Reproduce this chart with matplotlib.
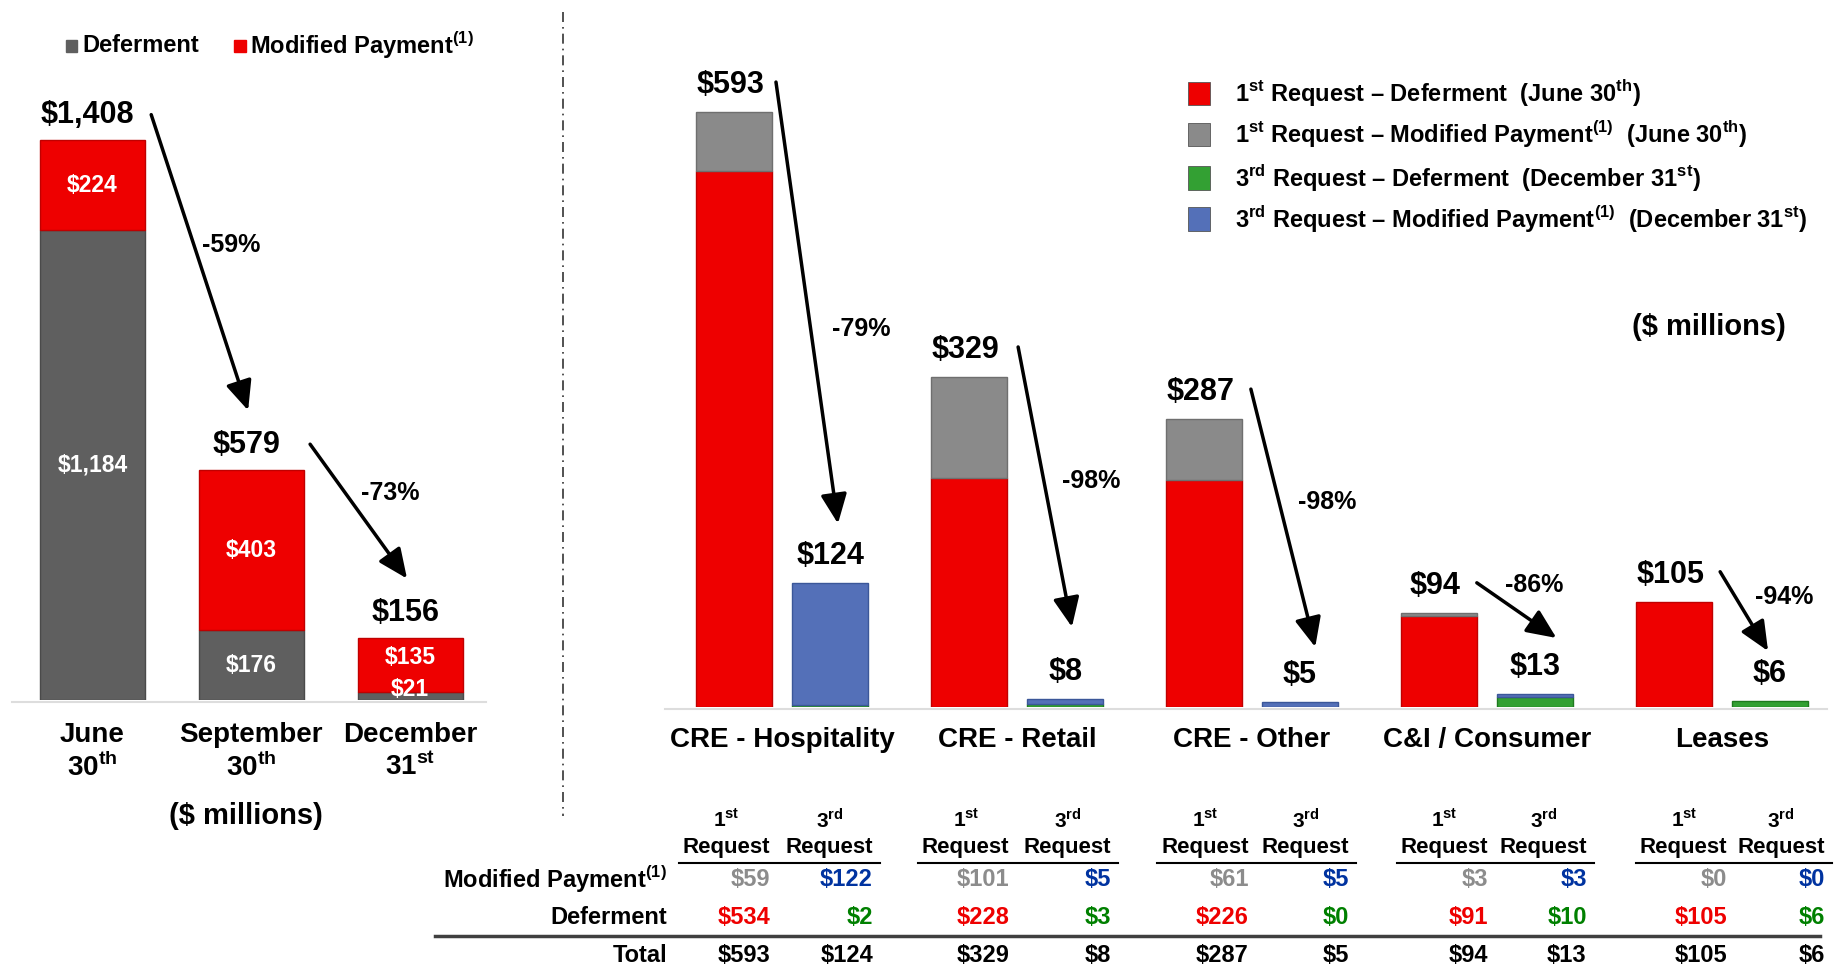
import matplotlib
matplotlib.use("Agg")
import matplotlib.pyplot as plt
import matplotlib.transforms as mtrans
from matplotlib.patches import Rectangle
from matplotlib.lines import Line2D
import numpy as np

plt.rcParams['font.family'] = ['Liberation Sans', 'DejaVu Sans']
plt.rcParams['font.weight'] = 'bold'
plt.rcParams['mathtext.fontset'] = 'custom'
plt.rcParams['mathtext.bf'] = 'Liberation Sans:bold'
plt.rcParams['mathtext.rm'] = 'Liberation Sans:bold'

# ---- data: left chart (totals by date)
dates = ['June', 'September', 'December']
date_days = ['30', '30', '31']
date_sfx = ['th', 'th', 'st']
left_deferment = [1184, 176, 21]
left_modified = [224, 403, 135]
left_pct = ['-59%', '-73%']

# ---- data: right chart (by segment)
segments = ['CRE - Hospitality', 'CRE - Retail', 'CRE - Other', 'C&I / Consumer', 'Leases']
first_mod = [59, 101, 61, 3, 0]
first_def = [534, 228, 226, 91, 105]
third_mod = [122, 5, 5, 3, 0]
third_def = [2, 3, 0, 10, 6]
right_pct = ['-79%', '-98%', '-98%', '-86%', '-94%']

RED = '#EE0000'
DGREY = '#5F5F5F'
GREY = '#8A8A8A'
GREEN = '#33A033'
BLUE = '#5470B8'
T_GREY = '#8C8C8C'
T_BLUE = '#0033A0'
T_GREEN = '#008000'

W, H = 1568, 825   # layout reference units


def fx(p):
    return p / W


def fy(p):
    return 1 - p / H


def sup(s):
    return r'$^{\mathbf{' + s + '}}$'


def money(v):
    return '${:,}'.format(v)


fig = plt.figure(figsize=(18.35, 9.66), dpi=100)

# ================= left chart =================
axl = fig.add_axes([fx(10), fy(598), fx(415) - fx(10), fy(10) - fy(598)])
xl = np.arange(len(dates))
ldef = np.array(left_deferment)
lmod = np.array(left_modified)
ltot = ldef + lmod
axl.bar(xl, ldef, width=0.663, color=DGREY, edgecolor='#4a4a4a', linewidth=1)
axl.bar(xl, lmod, bottom=ldef, width=0.663, color=RED, edgecolor='#c00000', linewidth=1)
axl.set_xlim(-0.508, 2.475)
axl.set_ylim(0, 588 / 0.3395)
axl.axis('off')
axl.plot([-0.508, 2.475], [-4, -4], color='#dddddd', lw=1.5, clip_on=False)

nudge = [(0, 0), (0, 0), (16, 18)]
for i in range(len(dates)):
    axl.text(xl[i], ldef[i] / 2 + nudge[i][0], money(ldef[i]), color='white',
             fontsize=16.5, ha='center', va='center')
    axl.text(xl[i], ldef[i] + lmod[i] / 2 + nudge[i][1], money(lmod[i]), color='white',
             fontsize=16.5, ha='center', va='center')
    axl.text(xl[i] - 0.03, ltot[i] + 64, money(ltot[i]), fontsize=22,
             ha='center', va='center')
    fig.text(fx(79 + 135.75 * i), fy(628), dates[i], fontsize=20, ha='center', va='center')
    fig.text(fx(79 + 135.75 * i), fy(655), date_days[i] + sup(date_sfx[i]), fontsize=20,
             ha='center', va='center')

for i in range(len(dates) - 1):
    start = (xl[i] + 0.37, ltot[i] + 65)
    end = (xl[i + 1] - 0.02, ltot[i + 1] + 150)
    axl.annotate('', xy=end, xytext=start,
                 arrowprops=dict(arrowstyle='-|>,head_length=0.9,head_width=0.4',
                                 lw=2.5, color='black', mutation_scale=20,
                                 shrinkA=0, shrinkB=0))
    mx, my = (start[0] + end[0]) / 2, (start[1] + end[1]) / 2
    axl.text(mx + 0.2, my + 45, left_pct[i], fontsize=18, ha='center', va='center')

fig.text(fx(210), fy(697), '($ millions)', fontsize=21, ha='center', va='center')

# left legend
for px, lab, col in [(56, 'Deferment', DGREY), (200, 'Modified Payment' + sup('(1)'), RED)]:
    fig.add_artist(Rectangle((fx(px), fy(44)), 10 / W, 10 / H, color=col,
                             transform=fig.transFigure))
    fig.text(fx(px + 14), fy(39), lab, fontsize=17, ha='left', va='center')

# divider
fig.add_artist(Line2D([fx(481), fx(481)], [fy(10), fy(697)], color='#333333', lw=1.2,
                      linestyle=(0, (6, 3, 1, 3)), transform=fig.transFigure))

# ================= right chart =================
axr = fig.add_axes([fx(568), fy(604), fx(1568) - fx(568), fy(10) - fy(604)])
xr = np.arange(len(segments))
off, bw = 0.2043, 0.324
f_def = np.array(first_def)
f_mod = np.array(first_mod)
t_def = np.array(third_def)
t_mod = np.array(third_mod)
f_tot = f_def + f_mod
t_tot = t_def + t_mod


def lw_for(v):
    return [1 if x > 0 else 0 for x in v]


axr.bar(xr - off, f_def, width=bw, color=RED, edgecolor='#c00000', linewidth=lw_for(f_def))
axr.bar(xr - off, f_mod, bottom=f_def, width=bw, color=GREY, edgecolor='#6f6f6f',
        linewidth=lw_for(f_mod))
axr.bar(xr + off, t_def, width=bw, color=GREEN, edgecolor='#1f7a1f', linewidth=lw_for(t_def))
axr.bar(xr + off, t_mod, bottom=t_def, width=bw, color=BLUE, edgecolor='#3b5799',
        linewidth=lw_for(t_mod))
axr.set_xlim(-0.5007, 4.482)
axr.set_ylim(0, 594 / 0.857)
axr.axis('off')
axr.plot([-0.5007, 4.45], [-1.5, -1.5], color='#dddddd', lw=1.5, clip_on=False)

start_dx = [-0.027, 0.004, -0.005, -0.043, -0.007]
end_dx = [0.237, 0.233, 0.269, 0.296, 0.197]
end_dy = [59, 72, 55, 56, 50]
pct_off = [(0.23, -26), (0.195, 6), (0.187, 16), (0.074, 25), (0.17, 14)]
for g in range(len(segments)):
    axr.text(xr[g] - off - 0.015, f_tot[g] + 27, money(f_tot[g]), fontsize=22,
             ha='center', va='center')
    axr.text(xr[g] + off, t_tot[g] + 27, money(t_tot[g]), fontsize=22,
             ha='center', va='center')
    axr.text(xr[g], -33, segments[g], fontsize=20, ha='center', va='center')
    start = (xr[g] + start_dx[g], f_tot[g] + 30)
    end = (xr[g] + end_dx[g], t_tot[g] + end_dy[g])
    axr.annotate('', xy=end, xytext=start,
                 arrowprops=dict(arrowstyle='-|>,head_length=0.9,head_width=0.4',
                                 lw=2.5, color='black', mutation_scale=20,
                                 shrinkA=0, shrinkB=0))
    mx, my = (start[0] + end[0]) / 2, (start[1] + end[1]) / 2
    axr.text(mx + pct_off[g][0], my + pct_off[g][1], right_pct[g], fontsize=18,
             ha='center', va='center')

# right legend
legend_rows = [
    ('1' + sup('st') + ' Request \u2013 Deferment  (June 30' + sup('th') + ')', RED),
    ('1' + sup('st') + ' Request \u2013 Modified Payment' + sup('(1)') + '  (June 30' + sup('th') + ')', GREY),
    ('3' + sup('rd') + ' Request \u2013 Deferment  (December 31' + sup('st') + ')', GREEN),
    ('3' + sup('rd') + ' Request \u2013 Modified Payment' + sup('(1)') + '  (December 31' + sup('st') + ')', BLUE),
]
for k, (lab, col) in enumerate(legend_rows):
    yc = [80, 115, 152, 187][k]
    fig.add_artist(Rectangle((fx(1015), fy(yc + 10)), 19 / W, 20 / H, facecolor=col,
                             edgecolor='#555555', linewidth=0.6,
                             transform=fig.transFigure))
    fig.text(fx(1055), fy(yc), lab, fontsize=17, ha='left', va='center')

fig.text(fx(1460), fy(279), '($ millions)', fontsize=21, ha='center', va='center')

# ================= table =================
tt = mtrans.blended_transform_factory(axr.transData, fig.transFigure)
col1 = xr * 1.019 - 0.052
col3 = xr * 1.013 + 0.386
for g in range(len(segments)):
    for cx, hdr in [(col1[g], '1' + sup('st')), (col3[g], '3' + sup('rd'))]:
        fig.text(cx - 0.185, fy(700), hdr, fontsize=15, ha='center', va='center', transform=tt)
        fig.text(cx, fy(724), 'Request', fontsize=16, ha='right', va='center', transform=tt)
    fig.add_artist(Line2D([col1[g] - 0.39, col3[g] + 0.03], [fy(737), fy(737)],
                          color='black', lw=1.5, transform=tt))
    fig.text(col1[g], fy(751), money(first_mod[g]), color=T_GREY, fontsize=17,
             ha='right', va='center', transform=tt)
    fig.text(col3[g], fy(751), money(third_mod[g]), color=T_BLUE, fontsize=17,
             ha='right', va='center', transform=tt)
    fig.text(col1[g], fy(784), money(first_def[g]), color=RED, fontsize=17,
             ha='right', va='center', transform=tt)
    fig.text(col3[g], fy(784), money(third_def[g]), color=T_GREEN, fontsize=17,
             ha='right', va='center', transform=tt)
    fig.text(col1[g], fy(816), money(f_tot[g]), fontsize=17, ha='right', va='center', transform=tt)
    fig.text(col3[g], fy(816), money(t_tot[g]), fontsize=17, ha='right', va='center', transform=tt)

fig.text(-0.49, fy(751), 'Modified Payment' + sup('(1)'), fontsize=17, ha='right',
         va='center', transform=tt)
fig.text(-0.49, fy(784), 'Deferment', fontsize=17, ha='right', va='center', transform=tt)
fig.text(-0.49, fy(816), 'Total', fontsize=17, ha='right', va='center', transform=tt)
fig.add_artist(Line2D([-1.477, 4.417], [fy(799), fy(799)], color='#404040', lw=2.5,
                      transform=tt))

fig.savefig('out.png', dpi=100)
